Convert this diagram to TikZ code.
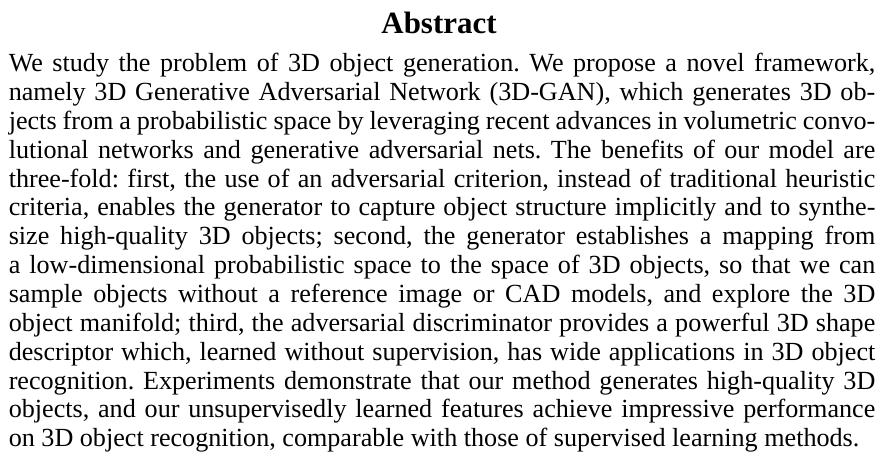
\documentclass[tikz,border=0pt]{standalone}
\usepackage{fontspec}
\setmainfont{Liberation Serif}
\frenchspacing
\tikzstyle{heading}=[anchor=base, inner sep=0, font=\bfseries\fontsize{23.2}{28}\selectfont]
\tikzstyle{textline}=[anchor=base west, inner sep=0, font=\fontsize{19.6}{23}\selectfont]

\begin{document}
\begin{tikzpicture}[x=0.75pt,y=-0.75pt]
\def\w{649.9pt}
\def\gap{28.85}
\def\top{71.7}
\useasboundingbox (0,0) rectangle (885,463);

%   Title
	\node[heading] (title) at (439,33.3) {Abstract};

%   Abstract text, one justified line per node
	\foreach \i/\t in {
	0/{We study the problem of 3D object generation. We propose a novel framework,},
	1/{namely 3D Generative Adversarial Network (3D-GAN), which generates 3D ob-},
	2/{jects from a probabilistic space by leveraging recent advances in volumetric convo-},
	3/{lutional networks and generative adversarial nets. The benefits of our model are},
	4/{three-fold: first, the use of an adversarial criterion, instead of traditional heuristic},
	5/{criteria, enables the generator to capture object structure implicitly and to synthe-},
	6/{size high-quality 3D objects; second, the generator establishes a mapping from},
	7/{a low-dimensional probabilistic space to the space of 3D objects, so that we can},
	8/{sample objects without a reference image or CAD models, and explore the 3D},
	9/{object manifold; third, the adversarial discriminator provides a powerful 3D shape},
	10/{descriptor which, learned without supervision, has wide applications in 3D object},
	11/{recognition. Experiments demonstrate that our method generates high-quality 3D},
	12/{objects, and our unsupervisedly learned features achieve impressive performance}}{
	\node[textline] (line\i) at (8.5,{\top+\gap*\i}) {\makebox[\w][s]{\t}};
	}
	% last line keeps its natural width
	\node[textline] (line13) at (8.5,{\top+\gap*13}) {on 3D object recognition, comparable with those of supervised learning methods.};

\end{tikzpicture}
\end{document}
